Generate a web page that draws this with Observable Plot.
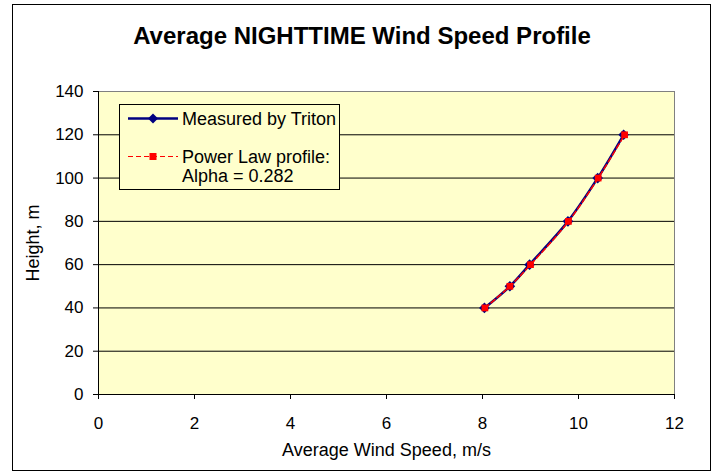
<!DOCTYPE html>
<html>
<head>
<meta charset="utf-8">
<script src="https://cdn.jsdelivr.net/npm/d3@7"></script>
<script src="https://cdn.jsdelivr.net/npm/@observablehq/plot@0.6"></script>
<style>
  body { margin: 0; background: #fff; font-family: Arial, "Liberation Sans", sans-serif; }
  #wrap { position: relative; width: 715px; height: 474px; background: #fff; overflow: hidden; }
  #frame { position: absolute; left: 12px; top: 4px; width: 699px; height: 467px; border: 1px solid #000; box-sizing: border-box; pointer-events: none; }
  #header { position: relative; height: 80px; }
  #title { position: absolute; left: 0; width: 724px; top: 22px; line-height: 28px; text-align: center; font-weight: bold; font-size: 24px; color: #000; }
  #legend { position: absolute; left: 119px; top: 104px; width: 221px; height: 86px; box-sizing: border-box; border: 1px solid #000; background: #FFFFCC; font-size: 18px; color: #000; }
  .item { position: absolute; left: 0; }
  .item svg { position: absolute; left: 6px; }
  .item span { position: absolute; left: 62px; white-space: nowrap; line-height: 20px; }
</style>
</head>
<body>
<div id="wrap">
  <div id="header"><div id="title">Average NIGHTTIME Wind Speed Profile</div></div>
  <div id="chart"></div>
  <div id="legend"></div>
  <div id="frame"></div>
</div>
<script>
const heights = [40, 50, 60, 80, 100, 120];
const measuredSpeed = [8.04, 8.57, 8.98, 9.78, 10.40, 10.94];
const powerLawSpeed = [8.05, 8.57, 9.00, 9.79, 10.41, 10.96];
const xTicks = [0, 2, 4, 6, 8, 10, 12];
const yTicks = [0, 20, 40, 60, 80, 100, 120, 140];
const seriesNames = ["Measured by Triton", "Power Law profile:", "Alpha = 0.282"];

const measured = heights.map((h, i) => ({h, v: measuredSpeed[i]}));
const power = heights.map((h, i) => ({h, v: powerLawSpeed[i]}));

const NAVY = "#000080", RED = "#FF0000";

const chart = Plot.plot({
  width: 715,
  height: 394,
  marginLeft: 98,
  marginRight: 41,
  marginTop: 11,
  marginBottom: 80,
  style: {fontFamily: "Arial, 'Liberation Sans', sans-serif", fontSize: "17px", color: "#000", background: "transparent", overflow: "visible"},
  x: {domain: [0, 12]},
  y: {domain: [0, 140]},
  marks: [
    Plot.frame({fill: "#FFFFCC", stroke: "#808080"}),
    Plot.ruleY(yTicks.filter(d => d > 0 && d < 140), {stroke: "#000", strokeWidth: 1}),
    Plot.axisX({ticks: xTicks, tickSize: 5, tickPadding: 17, tickFormat: d => d, fontSize: 17, label: null}),
    Plot.axisX({ticks: [], label: "Average Wind Speed, m/s", labelAnchor: "center", labelArrow: "none", labelOffset: 61, fontSize: 18}),
    Plot.axisY({ticks: yTicks, tickSize: 5, tickPadding: 10, tickFormat: d => d, fontSize: 17, label: null}),
    Plot.axisY({ticks: [], label: "Height, m", labelAnchor: "center", labelArrow: "none", labelOffset: 72, fontSize: 18}),
    Plot.ruleX([0], {stroke: "#000"}),
    Plot.ruleY([0], {stroke: "#000"}),
    Plot.line(measured, {x: "v", y: "h", curve: "catmull-rom", stroke: NAVY, strokeWidth: 2.5}),
    Plot.dot(measured, {x: "v", y: "h", symbol: "diamond2", fill: NAVY, stroke: "none", r: 4.8}),
    Plot.line(power, {x: "v", y: "h", curve: "catmull-rom", stroke: RED, strokeWidth: 1.5, strokeDasharray: "5,3"}),
    Plot.dot(power, {x: "v", y: "h", symbol: "square", fill: RED, stroke: "none", r: 3.8})
  ]
});
document.getElementById("chart").appendChild(chart);

// Legend
const legend = document.getElementById("legend");
legend.innerHTML = `
  <div class="item" style="top:0">
    <svg width="52" height="30" style="top:0"><line x1="2" y1="13.5" x2="52" y2="13.5" stroke="${NAVY}" stroke-width="2.5"/>
      <path d="M27,8.5 L32,13.5 L27,18.5 L22,13.5 Z" fill="${NAVY}"/></svg>
    <span style="top:4px">${seriesNames[0]}</span>
  </div>
  <div class="item" style="top:0">
    <svg width="52" height="70" style="top:0"><line x1="2" y1="51.5" x2="52" y2="51.5" stroke="${RED}" stroke-width="1.2" stroke-dasharray="5,3"/>
      <rect x="23.5" y="48" width="7" height="7" fill="${RED}"/></svg>
    <span style="top:42px">${seriesNames[1]}</span>
    <span style="top:61px">${seriesNames[2]}</span>
  </div>`;
</script>
</body>
</html>
